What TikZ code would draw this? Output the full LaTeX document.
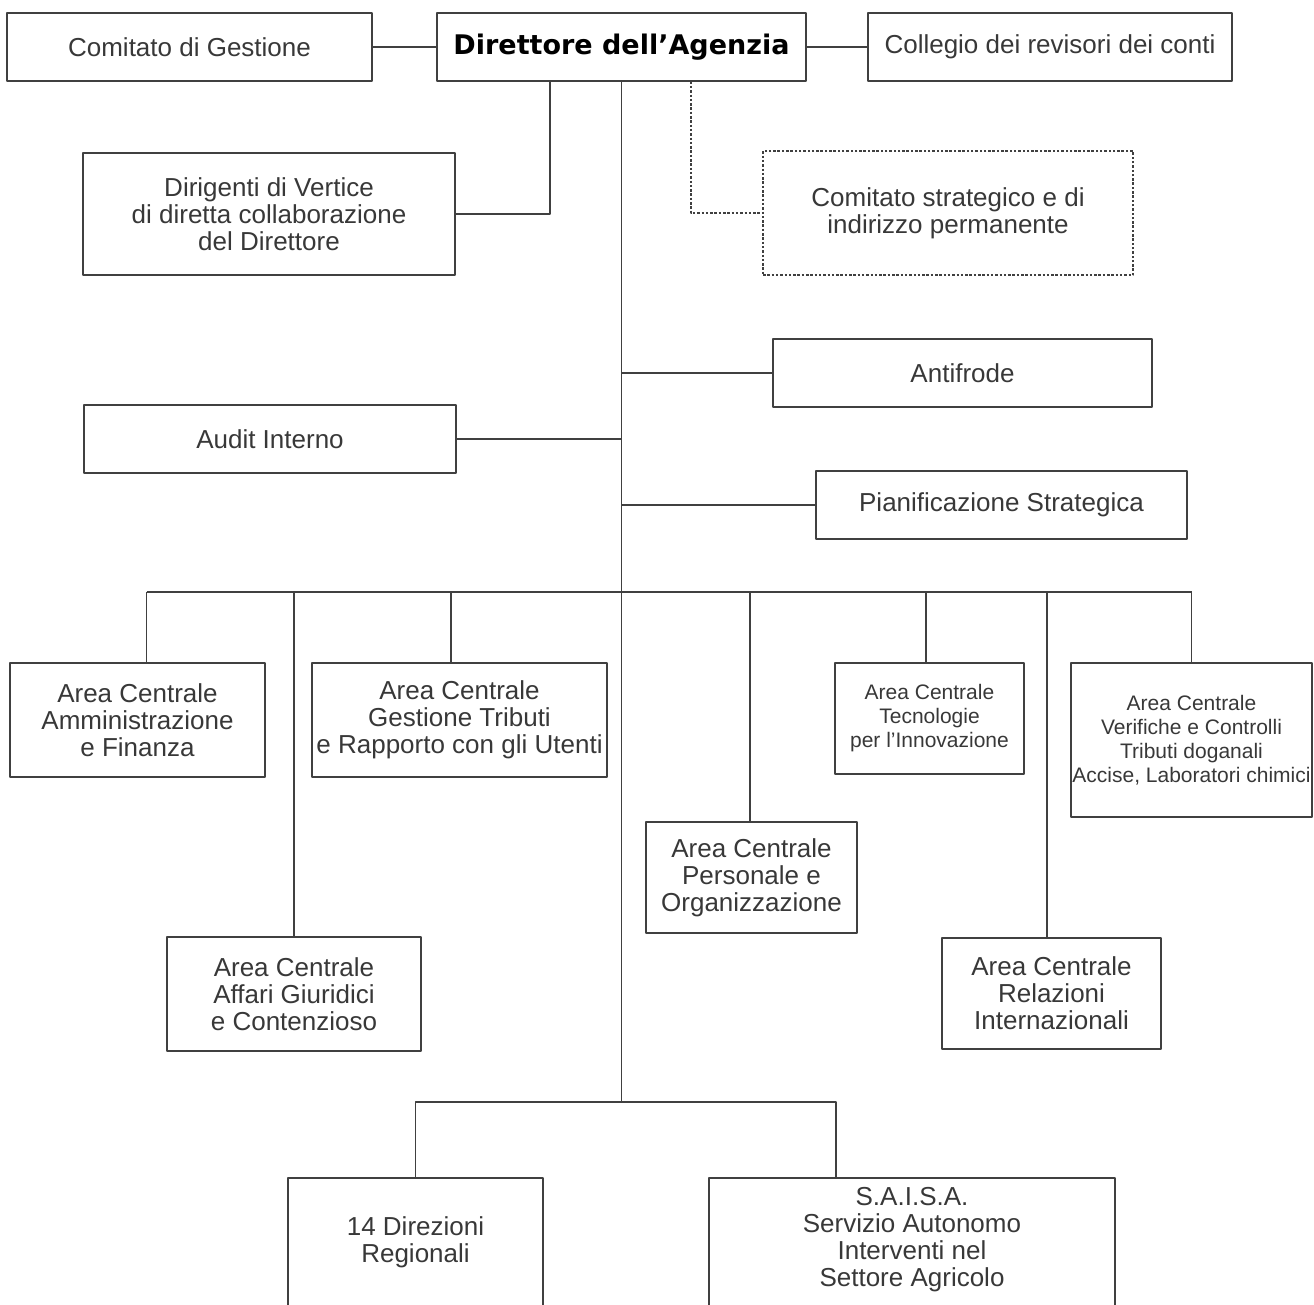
\documentclass[tikz,border=0pt]{standalone}
\usepackage{fontspec}
\setmainfont{Liberation Sans}
\newfontfamily\heavyfont{DejaVu Sans}
\begin{document}
\begin{tikzpicture}[x=1pt,y=-1pt,line join=round,line width=1.2pt,draw=black!75,
  ufficio/.style={draw=black!75,line width=1.2pt,align=center,inner sep=0pt,text=black!78,font=\fontsize{26}{27}\selectfont},
  piccolo/.style={font=\fontsize{21}{24}\selectfont},
  testo/.style={align=center,inner sep=0pt,text=black!78,font=\fontsize{26}{27}\selectfont},
  tratteggio/.style={dash pattern=on 2.5pt off 1.8pt}]
 	\useasboundingbox (0,0) rectangle (1314,1304);
 	\node[ufficio,minimum width=365pt,minimum height=68pt] (gestione) at (189.5,47) {Comitato di Gestione};
 	\node[ufficio,minimum width=369pt,minimum height=68pt,font=\heavyfont\bfseries\fontsize{27}{28}\selectfont,text=black] (direttore) at (621.5,47) {Direttore dell’Agenzia};
 	\node[ufficio,minimum width=364pt,minimum height=68pt] (revisori) at (1050,47) {Collegio dei revisori dei conti};
 	\node[ufficio,minimum width=372pt,minimum height=122pt] (dirigenti) at (269,214) {Dirigenti di Vertice\\di diretta collaborazione\\del Direttore};
 	\node[ufficio,tratteggio,minimum width=370pt,minimum height=124pt] (strategico) at (948,213) {Comitato strategico e di\\indirizzo permanente};
 	\node[ufficio,minimum width=379pt,minimum height=68pt] (antifrode) at (962.5,373) {Antifrode};
 	\node[ufficio,minimum width=372pt,minimum height=68pt] (audit) at (270,439) {Audit Interno};
 	\node[ufficio,minimum width=371pt,minimum height=68pt] (pianificazione) at (1001.5,505) {Pianificazione Strategica};
 	\node[ufficio,minimum width=255pt,minimum height=114pt] (amministrazione) at (137.5,720) {Area Centrale\\Amministrazione\\e Finanza};
 	\node[ufficio,minimum width=295pt,minimum height=114pt] (tributi) at (459.5,720) {Area Centrale\\Gestione Tributi\\e Rapporto con gli Utenti};
 	\node[ufficio,piccolo,minimum width=189pt,minimum height=111pt] (tecnologie) at (929.5,718.5) {Area Centrale\\Tecnologie\\per l’Innovazione};
 	\node[ufficio,piccolo,minimum width=241pt,minimum height=154pt] (verifiche) at (1191.5,740) {Area Centrale\\Verifiche e Controlli\\Tributi doganali\\Accise, Laboratori chimici};
 	\node[ufficio,minimum width=211pt,minimum height=111pt] (personale) at (751.5,877.5) {Area Centrale\\Personale e\\Organizzazione};
 	\node[ufficio,minimum width=254pt,minimum height=114pt] (giuridici) at (294,994) {Area Centrale\\Affari Giuridici\\e Contenzioso};
 	\node[ufficio,minimum width=219pt,minimum height=111pt] (relazioni) at (1051.5,993.5) {Area Centrale\\Relazioni\\Internazionali};
 	\node[ufficio,minimum width=255pt,minimum height=152pt] (direzioni) at (415.5,1254) {};
 	\node[testo] (direzionitxt) at ([yshift=12pt]direzioni.center) {14 Direzioni\\Regionali};
 	\node[ufficio,minimum width=406pt,minimum height=152pt] (saisa) at (912,1254) {};
 	\node[testo] (saisatxt) at ([yshift=14pt]saisa.center) {S.A.I.S.A.\\Servizio Autonomo\\Interventi nel\\Settore Agricolo};
 	\coordinate (bus) at (621.5,592);
 	\coordinate (fork) at (621.5,1102);
 	\draw (gestione.east) -- (direttore.west);
 	\draw (direttore.east) -- (revisori.west);
 	\draw (direttore.south) -- (fork);
 	\draw ([xshift=-71.5pt]direttore.south) |- (dirigenti.east);
 	\draw[tratteggio] ([xshift=69.5pt]direttore.south) |- (strategico.west);
 	\draw (antifrode.west) -- (antifrode.west -| fork);
 	\draw (audit.east) -- (audit.east -| fork);
 	\draw (pianificazione.west) -- (pianificazione.west -| fork);
 	\draw ([xshift=9pt]amministrazione.north |- bus) -- (verifiche.north |- bus);
 	\foreach \n/\dx in {amministrazione/9,giuridici/0,tributi/-8.5,personale/-1.5,tecnologie/-3.5,relazioni/-4.5,verifiche/0}
 	  \draw ([xshift=\dx pt]\n.north) -- ([xshift=\dx pt]\n.north |- bus);
 	\draw (direzioni.north) |- (fork) -| ([xshift=-76pt]saisa.north);
\end{tikzpicture}
\end{document}
